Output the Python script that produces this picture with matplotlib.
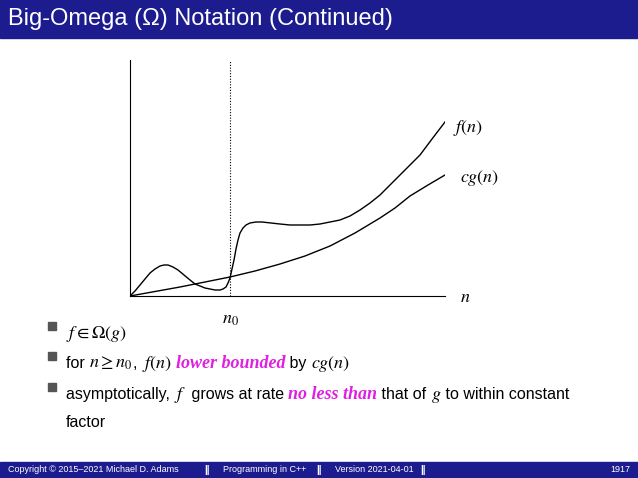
import matplotlib
matplotlib.use("Agg")
import matplotlib.pyplot as plt

plt.rcParams['mathtext.fontset'] = 'stix'
plt.rcParams['font.family'] = ['Liberation Sans', 'DejaVu Sans']

f_x = [0,5,10,15,20,25,30,34,38,43,48,54,60,65,70,75,80,85,90,93,96,98,100,102,104,106,108,110,113,116,120,126,132,141,150,160,170,180,190,200,210,220,230,240,250,260,270,280,290,302,315]
f_y = [0,5,11,17,23,27,30,31,31,29,26,21,16,12,10,8,7,6,6,7,9,13,18,27,36,47,56,63,68,71,73,74,74,73,72,71,71,71,72,74,76,80,86,93,101,111,121,131,141,157,174]
g_x = [0,25,50,75,100,125,150,175,200,225,250,265,280,298,315]
g_y = [0,4.5,9,14,19,25,32,40,50,63,78,88,100,111,121]
n0 = 100

W, H = 638, 478
fig = plt.figure(figsize=(W/100, H/100), dpi=100)
navy = '#1c1c8e'
fig.patches.append(plt.Rectangle((0, 1-38/H), 1, 38/H, transform=fig.transFigure, color=navy, zorder=0))
fig.text(8/W, 1-19/H, 'Big-Omega (Ω) Notation (Continued)', color='white', fontsize=17, va='center')
fig.patches.append(plt.Rectangle((0, 0), 1, 16/H, transform=fig.transFigure, color=navy, zorder=0))
fy = 8/H
fig.text(8/W, fy, 'Copyright © 2015–2021 Michael D. Adams', color='white', fontsize=6.5, va='center')
fig.text(204/W, fy, '||', color='white', fontsize=7, va='center', weight='bold')
fig.text(223/W, fy, 'Programming in C++', color='white', fontsize=6.5, va='center')
fig.text(316/W, fy, '||', color='white', fontsize=7, va='center', weight='bold')
fig.text(335/W, fy, 'Version 2021-04-01', color='white', fontsize=6.5, va='center')
fig.text(420/W, fy, '||', color='white', fontsize=7, va='center', weight='bold')
fig.text(630/W, fy, '1917', color='white', fontsize=6.5, va='center', ha='right')

ax = fig.add_axes([130/W, 1-296/H, 315/W, 236/H])
ax.set_xlim(0, 315); ax.set_ylim(0, 236)
for s in ['top', 'right']:
    ax.spines[s].set_visible(False)
ax.set_xticks([]); ax.set_yticks([])
ax.plot(f_x, f_y, color='black', lw=1)
ax.plot(g_x, g_y, color='black', lw=1)
ax.plot([n0, n0], [0, 236], color='black', lw=0.8, ls=(0, (1, 1.5)))
ax.text(323, 168, '$f(n)$', fontsize=13, va='center', clip_on=False)
ax.text(330, 118, '$cg(n)$', fontsize=13, va='center', clip_on=False)
ax.text(330, -2, '$n$', fontsize=13, va='center', clip_on=False)
ax.text(n0, -24, '$n_0$', fontsize=13, ha='center', va='center', clip_on=False)

renderer = fig.canvas.get_renderer()
def line(px, py, parts):
    x = px / W
    for txt, kw in parts:
        kw = dict(kw)
        fs = kw.pop('fontsize', 11.5)
        t = fig.text(x, 1-py/H, txt, fontsize=fs, va='baseline', **kw)
        bb = t.get_window_extent(renderer)
        x = bb.x1 / W

mag = dict(color='#e020e0', weight='bold', style='italic', family='Liberation Serif', fontsize=13)
M = dict(fontsize=13)
for by in [332, 362, 393]:
    fig.patches.append(plt.Rectangle((48/W, 1-(by-2)/H), 8/W, 8/H, transform=fig.transFigure, color='#555555'))
line(66, 338, [(r'$f \in \Omega(g)$', M)])
line(66, 368, [('for ', {}), (r'$n \geq n_0$', M), (', ', {}), (r'$f(n)$', M), (' ', {}),
               ('lower bounded', mag), (' by ', {}), (r'$cg(n)$', M)])
line(66, 399, [('asymptotically, ', {}), (r'$f$', M), (' grows at rate ', {}),
               ('no less than', mag), (' that of ', {}), (r'$g$', M), (' to within constant', {})])
line(66, 427, [('factor', {})])

fig.savefig('out.png', dpi=100)
